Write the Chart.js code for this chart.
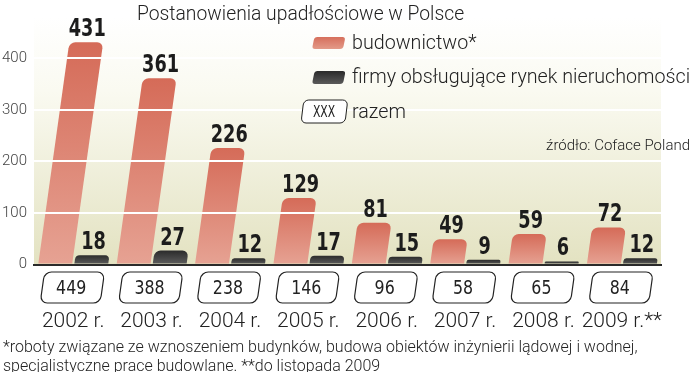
<!DOCTYPE html>
<html>
<head>
<meta charset="utf-8">
<script src="https://cdn.jsdelivr.net/npm/chart.js@4.4.1/dist/chart.umd.min.js"></script>
<style>
  html, body { margin: 0; padding: 0; background: #fff; }
  #wrap { width: 699px; height: 372px; position: relative; }
</style>
</head>
<body>
<div id="wrap"><canvas id="chart"></canvas></div>
<script>
// Chart data
const years = ['2002 r.', '2003 r.', '2004 r.', '2005 r.', '2006 r.', '2007 r.', '2008 r.', '2009 r.**'];
const construction = [431, 361, 226, 129, 81, 49, 59, 72];
const realEstate = [18, 27, 12, 17, 15, 9, 6, 12];
const totals = [449, 388, 238, 146, 96, 58, 65, 84];
const yTicks = [0, 100, 200, 300, 400];

const titleText = 'Postanowienia upadłościowe w Polsce';
const seriesNames = ['budownictwo*', 'firmy obsługujące rynek nieruchomości'];
const totalName = 'razem';
const sourceText = 'źródło: Coface Poland';
const footnote = [
    '*roboty związane ze wznoszeniem budynków, budowa obiektów inżynierii lądowej i wodnej,',
    'specjalistyczne prace budowlane. **do listopada 2009'
];

const SLANT = 0.14;   // bars lean to the right
const NARROW = "'Liberation Sans Narrow', 'DejaVu Sans Condensed', sans-serif";

function light(size) {
    return '300 ' + size + "px Roboto, 'Liberation Sans', sans-serif";
}

// rounded box whose top edge is pushed right by k*h
function slantBox(ctx, x, y, w, h, r, k) {
    ctx.save();
    ctx.translate(x, y + h);
    ctx.transform(1, 0, -k, 1, 0, 0);
    ctx.beginPath();
    ctx.roundRect(0, -h, w, h, r);
    ctx.restore();
}

// text squeezed horizontally, the originals use a narrow face
function narrowText(ctx, text, x, y, sx) {
    ctx.save();
    ctx.translate(x, y);
    ctx.scale(sx, 1);
    ctx.fillText(text, 0, 0);
    ctx.restore();
}

function barFill(top, bottom) {
    return function(c) {
        const chart = c.chart;
        const area = chart.chartArea;
        if (!area || c.type !== 'data') return top;
        const y = chart.scales.y.getPixelForValue(c.raw);
        const g = chart.ctx.createLinearGradient(0, y, 0, area.bottom);
        g.addColorStop(0, top);
        g.addColorStop(1, bottom);
        return g;
    };
}

const decor = {
    id: 'decor',
    beforeDraw(chart) {
        const ctx = chart.ctx;
        const a = chart.chartArea;
        ctx.save();
        ctx.fillStyle = '#ffffff';
        ctx.fillRect(0, 0, chart.width, chart.height);
        const g = ctx.createLinearGradient(0, a.top, 0, a.bottom);
        g.addColorStop(0, '#ffffff');
        g.addColorStop(0.3, '#fafaf1');
        g.addColorStop(1, '#e3e2c1');
        ctx.fillStyle = g;
        ctx.fillRect(a.left, a.top, a.right - a.left, a.bottom - a.top);
        ctx.restore();
    },
    beforeDatasetsDraw(chart) {
        const ctx = chart.ctx;
        ctx.save();
        ctx.transform(1, 0, -SLANT, 1, SLANT * chart.chartArea.bottom, 0);
    },
    afterDatasetsDraw(chart) {
        chart.ctx.restore();
    },
    afterDraw(chart) {
        const ctx = chart.ctx;
        const a = chart.chartArea;
        const xs = chart.scales.x;
        ctx.save();

        // values above the bars
        ctx.fillStyle = '#1c1c1c';
        ctx.textAlign = 'center';
        ctx.textBaseline = 'alphabetic';
        ctx.font = 'bold 24px ' + NARROW;
        chart.data.datasets.forEach((ds, d) => {
            chart.getDatasetMeta(d).data.forEach((el, i) => {
                const x = el.x + SLANT * (a.bottom - el.y);
                narrowText(ctx, ds.data[i], x + 1, el.y - 6, 0.82);
            });
        });

        // totals in boxes under the axis
        totals.forEach((t, i) => {
            const cx = xs.getPixelForValue(i) - 2;
            slantBox(ctx, cx - 31, 272, 60, 31, 7, 0.14);
            ctx.fillStyle = '#ffffff';
            ctx.fill();
            ctx.lineWidth = 1.2;
            ctx.strokeStyle = '#222';
            ctx.stroke();
            ctx.fillStyle = '#222';
            ctx.font = '20px ' + NARROW;
            ctx.textBaseline = 'middle';
            narrowText(ctx, t, cx, 289, 0.88);
        });

        // title
        ctx.textAlign = 'left';
        ctx.textBaseline = 'alphabetic';
        ctx.fillStyle = '#222';
        ctx.font = light(19.3);
        ctx.fillText(titleText, 137, 20);

        // legend
        let g = ctx.createLinearGradient(0, 37, 0, 49);
        g.addColorStop(0, '#d66f5c');
        g.addColorStop(1, '#e39a88');
        slantBox(ctx, 312, 37, 31, 12, 3, 0.2);
        ctx.fillStyle = g;
        ctx.fill();
        g = ctx.createLinearGradient(0, 71, 0, 84);
        g.addColorStop(0, '#2a2a2a');
        g.addColorStop(1, '#5a5a5a');
        slantBox(ctx, 312, 71, 31, 13, 3, 0.2);
        ctx.fillStyle = g;
        ctx.fill();
        slantBox(ctx, 301, 100, 44, 23, 5, 0.12);
        ctx.fillStyle = '#fff';
        ctx.fill();
        ctx.lineWidth = 1;
        ctx.strokeStyle = '#222';
        ctx.stroke();
        ctx.fillStyle = '#222';
        ctx.textAlign = 'center';
        ctx.font = '15px ' + NARROW;
        narrowText(ctx, 'XXX', 324, 117, 0.8);

        ctx.textAlign = 'left';
        ctx.font = light(19.7);
        ctx.fillText(seriesNames[0], 352, 49);
        ctx.fillText(seriesNames[1], 352, 83);
        ctx.fillText(totalName, 352, 118);

        ctx.textAlign = 'right';
        ctx.font = light(15);
        ctx.fillText(sourceText, 690, 150);

        // footnote
        ctx.textAlign = 'left';
        ctx.font = light(16);
        ctx.fillText(footnote[0], 3, 352);
        ctx.fillText(footnote[1], 3, 371);
        ctx.restore();
    }
};

new Chart(document.getElementById('chart'), {
    type: 'bar',
    data: {
        labels: years,
        datasets: [{
            label: seriesNames[0],
            data: construction,
            backgroundColor: barFill('#d56b58', '#e6a293'),
            borderRadius: 6,
            categoryPercentage: 0.92,
            barPercentage: 0.94,
            clip: false
        }, {
            label: seriesNames[1],
            data: realEstate,
            backgroundColor: barFill('#2b2b2b', '#5e5e5e'),
            borderRadius: 6,
            categoryPercentage: 0.92,
            barPercentage: 0.94,
            clip: false
        }]
    },
    options: {
        responsive: true,
        maintainAspectRatio: false,
        animation: false,
        devicePixelRatio: 1,
        layout: { padding: { top: 17, right: 0, bottom: 0, left: 0 } },
        plugins: {
            legend: { display: false },
            tooltip: { enabled: false }
        },
        scales: {
            x: {
                grid: { display: false },
                border: { display: true, color: '#2a2a2a', width: 2, z: 2 },
                ticks: {
                    color: '#222',
                    padding: 37,
                    maxRotation: 0,
                    autoSkip: false,
                    font: { family: 'Roboto', size: 21, weight: '300' }
                },
                afterFit(scale) { scale.height = 107.5; }
            },
            y: {
                min: 0,
                max: 480,
                afterBuildTicks(scale) {
                    scale.ticks = yTicks.map(v => ({ value: v }));
                },
                grid: {
                    z: 1,
                    drawTicks: false,
                    lineWidth: 2,
                    color: c => c.tick && c.tick.value === 0 ? 'rgba(0,0,0,0)' : '#ffffff'
                },
                border: { display: false },
                ticks: {
                    color: '#444',
                    padding: 7,
                    font: { family: 'Roboto', size: 15, weight: '300' }
                },
                afterFit(scale) { scale.width = 34; }
            }
        }
    },
    plugins: [decor]
});
</script>
</body>
</html>
